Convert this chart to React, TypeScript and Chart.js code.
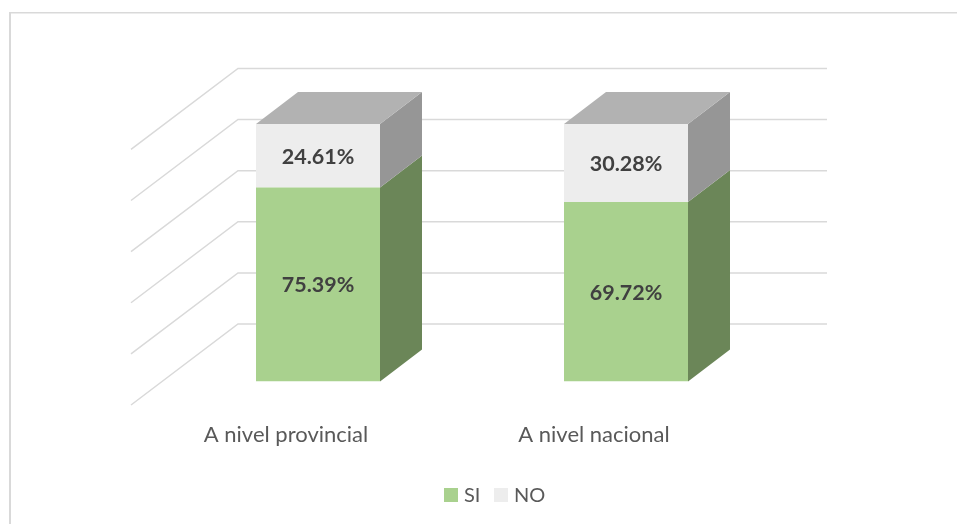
import React, { useEffect, useRef } from "react";
import { Chart, registerables } from "chart.js";

Chart.register(...registerables);

const categories = ["A nivel provincial", "A nivel nacional"];
const seriesNames = ["SI", "NO"];
const siValues = [75.39, 69.72];
const noValues = [24.61, 30.28];
const gridTicks = [0, 20, 40, 60, 80, 100];

const DEPTH_X = 42;
const DEPTH_Y = 32;
const LINE = "#D9D9D9";
const TEXT = "#595959";

const frontColors = ["#A9D18E", "#EDEDED"];
const faceColors = [
  { side: "#6B8658" },
  { side: "#969696", top: "#B2B2B2" },
];

const plugin3d = {
  id: "plugin3d",
  beforeDraw(chart: any) {
    const { ctx, width, height } = chart;
    ctx.save();
    ctx.fillStyle = LINE;
    ctx.fillRect(9, 12, 2, height - 12);
    ctx.fillRect(9, 12, width - 9, 1.5);
    ctx.restore();
  },
  beforeDatasetsDraw(chart: any) {
    const { ctx } = chart;
    const y = chart.scales.y;
    const base = y.getPixelForValue(0);
    const wall = (v: number) => 324 - ((base - y.getPixelForValue(v)) * 255) / 257;
    ctx.save();
    ctx.strokeStyle = LINE;
    ctx.lineWidth = 1.5;
    gridTicks.forEach((t) => {
      const wy = wall(t);
      ctx.beginPath();
      ctx.moveTo(131, wy + 81);
      ctx.lineTo(238, wy);
      ctx.lineTo(827, wy);
      ctx.stroke();
    });
    ctx.restore();
  },
  afterDatasetsDraw(chart: any) {
    const { ctx } = chart;
    ctx.save();
    chart.data.datasets.forEach((ds: any, di: number) => {
      chart.getDatasetMeta(di).data.forEach((bar: any) => {
        const r = bar.x + bar.width / 2;
        const l = bar.x - bar.width / 2;
        ctx.fillStyle = faceColors[di].side;
        ctx.beginPath();
        ctx.moveTo(r, bar.base);
        ctx.lineTo(r + DEPTH_X, bar.base - DEPTH_Y);
        ctx.lineTo(r + DEPTH_X, bar.y - DEPTH_Y);
        ctx.lineTo(r, bar.y);
        ctx.closePath();
        ctx.fill();
        const top = faceColors[di].top;
        if (top) {
          ctx.fillStyle = top;
          ctx.beginPath();
          ctx.moveTo(l, bar.y);
          ctx.lineTo(l + DEPTH_X, bar.y - DEPTH_Y);
          ctx.lineTo(r + DEPTH_X, bar.y - DEPTH_Y);
          ctx.lineTo(r, bar.y);
          ctx.closePath();
          ctx.fill();
        }
      });
    });
    ctx.fillStyle = "#404040";
    ctx.font = "bold 21.5px Lato";
    ctx.textAlign = "center";
    ctx.textBaseline = "middle";
    chart.data.datasets.forEach((ds: any, di: number) => {
      chart.getDatasetMeta(di).data.forEach((bar: any, i: number) => {
        ctx.fillText(ds.data[i].toFixed(2) + "%", bar.x, (bar.y + bar.base) / 2 + 1);
      });
    });
    // legend, from the dataset names and colours
    ctx.font = "20px Lato";
    ctx.textAlign = "left";
    ctx.textBaseline = "middle";
    const boxX = [444, 494];
    chart.data.datasets.forEach((ds: any, di: number) => {
      ctx.fillStyle = ds.backgroundColor;
      ctx.fillRect(boxX[di], 488, 14, 14);
      ctx.fillStyle = TEXT;
      ctx.fillText(ds.label, boxX[di] + 20, 495.5);
    });
    ctx.restore();
  },
};

export default function App() {
  const ref = useRef<HTMLCanvasElement>(null);
  useEffect(() => {
    const chart = new Chart(ref.current!, {
      type: "bar",
      data: {
        labels: categories,
        datasets: [
          { label: seriesNames[0], data: siValues, backgroundColor: frontColors[0] },
          { label: seriesNames[1], data: noValues, backgroundColor: frontColors[1] },
        ],
      },
      options: {
        responsive: false,
        animation: false,
        devicePixelRatio: 1,
        layout: { padding: { left: 164, right: 177, top: 124, bottom: 44 } },
        datasets: { bar: { barPercentage: 0.4026, categoryPercentage: 1 } },
        scales: {
          x: {
            stacked: true,
            grid: { display: false },
            border: { display: false },
            ticks: {
              color: TEXT,
              font: { family: "Lato", size: 22 },
              labelOffset: -32,
              padding: 32,
              maxRotation: 0,
            },
          },
          y: { stacked: true, display: false, min: 0, max: 100, ticks: { stepSize: 20 } },
        },
        plugins: {
          tooltip: { enabled: false },
          legend: { display: false },
        },
      },
      plugins: [plugin3d],
    } as any);
    return () => chart.destroy();
  }, []);
  return (
    <canvas
      ref={ref}
      width={957}
      height={524}
      style={{ position: "absolute", left: 0, top: 0, display: "block" }}
    />
  );
}
